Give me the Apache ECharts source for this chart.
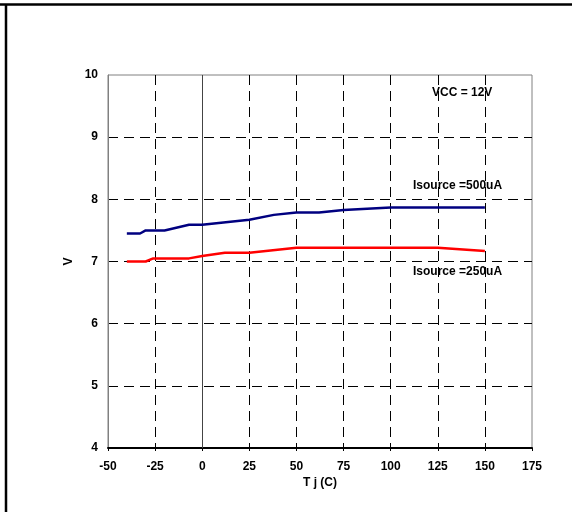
<!DOCTYPE html>
<html>
<head>
<meta charset="utf-8">
<script src="https://cdn.jsdelivr.net/npm/echarts@6/dist/echarts.min.js"></script>
<style>html,body{margin:0;padding:0;background:#fff;}#c{width:579px;height:512px;}</style>
</head>
<body>
<div id="c"></div>
<script>
// Tick labels / axis ranges
var xTicks = [-50, -25, 0, 25, 50, 75, 100, 125, 150, 175];
var yTicks = [4, 5, 6, 7, 8, 9, 10];
// Series: Tj (C) and V
var tj500 = [-40, -33, -30, -20, -7, 0, 25, 38, 50, 62, 75, 100, 125, 150];
var v500  = [7.45, 7.45, 7.50, 7.50, 7.59, 7.59, 7.67, 7.75, 7.79, 7.79, 7.83, 7.87, 7.87, 7.87];
var tj250 = [-40, -30, -26, -7, 0, 12, 25, 50, 75, 100, 125, 150];
var v250  = [7.00, 7.00, 7.05, 7.05, 7.09, 7.14, 7.14, 7.22, 7.22, 7.22, 7.22, 7.17];
var labels = ['VCC = 12V', 'Isource =500uA', 'Isource =250uA'];

function pairs(xs, ys){ return xs.map(function(x,i){ return [x, ys[i]]; }); }

var font = "'Liberation Sans', Arial, sans-serif";
var chart = echarts.init(document.getElementById('c'), null, {renderer:'canvas'});
chart.setOption({
  animation: false,
  backgroundColor: '#fff',
  grid: {left:108, top:75, right:47, bottom:64, show:true, borderColor:'#808080', borderWidth:1, backgroundColor:'transparent'},
  xAxis: {
    type:'value', min:xTicks[0], max:xTicks[xTicks.length-1], interval:25,
    name:'T j (C)', nameLocation:'middle', nameGap:29, nameMoveOverlap:false,
    nameTextStyle:{fontFamily:font, fontWeight:'bold', fontSize:12, color:'#000'},
    axisLine:{show:true, onZero:false, lineStyle:{color:'#000', width:2}},
    axisTick:{show:true, inside:false, length:3, lineStyle:{color:'#000'}},
    axisLabel:{fontFamily:font, fontWeight:'bold', fontSize:12, color:'#000', margin:13},
    splitLine:{show:true, showMinLine:false, showMaxLine:false, lineStyle:{color:'#000', type:[10,6], width:1}}
  },
  yAxis: {
    type:'value', min:yTicks[0], max:yTicks[yTicks.length-1], interval:1,
    name:'V', nameLocation:'middle', nameGap:33, nameMoveOverlap:false,
    nameTextStyle:{fontFamily:font, fontWeight:'bold', fontSize:12, color:'#000'},
    axisLine:{show:true, onZero:false, lineStyle:{color:'#808080', width:1}},
    axisTick:{show:false},
    axisLabel:{fontFamily:font, fontWeight:'bold', fontSize:12, color:'#000', margin:10},
    splitLine:{show:true, showMinLine:false, showMaxLine:false, lineStyle:{color:'#000', type:[10,6], width:1}}
  },
  series: [
    {
      type:'line', data:pairs(tj500, v500), showSymbol:false, symbol:'none',
      lineStyle:{color:'#000080', width:2.5}, itemStyle:{color:'#000080'}, z:3,
      markLine:{silent:true, symbol:['none','none'], label:{show:false},
        lineStyle:{color:'#444', type:'solid', width:1}, data:[{xAxis:0}], z:1}
    },
    {
      type:'line', data:pairs(tj250, v250), showSymbol:false, symbol:'none',
      lineStyle:{color:'#ff0000', width:2.5}, itemStyle:{color:'#ff0000'}, z:3
    }
  ],
  graphic: [
    {type:'line', shape:{x1:0, y1:4.5, x2:572, y2:4.5}, style:{stroke:'#000', lineWidth:2.5}},
    {type:'line', shape:{x1:6, y1:4, x2:6, y2:512}, style:{stroke:'#000', lineWidth:2.5}},
    {type:'text', left:432, top:87, style:{text:labels[0], font:'bold 12px ' + font, fill:'#000'}},
    {type:'text', left:413, top:180, style:{text:labels[1], font:'bold 12px ' + font, fill:'#000'}},
    {type:'text', left:413, top:266, style:{text:labels[2], font:'bold 12px ' + font, fill:'#000'}}
  ]
});
</script>
</body>
</html>
